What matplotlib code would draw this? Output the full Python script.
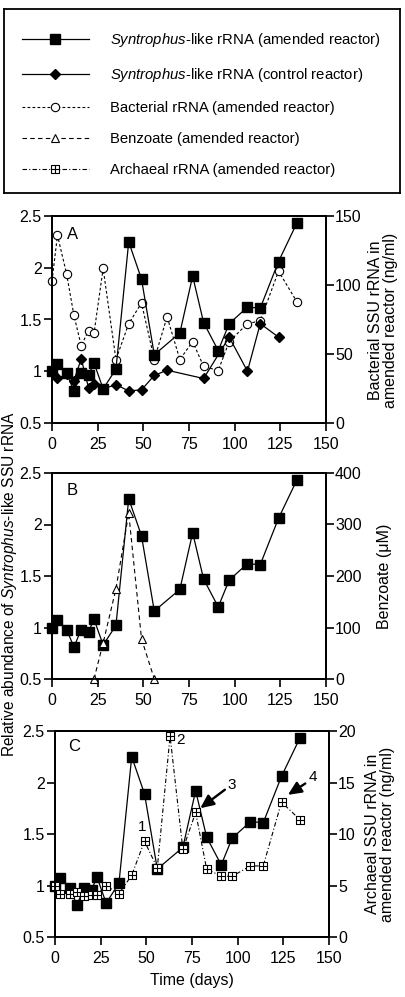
import matplotlib
matplotlib.use('Agg')
import matplotlib.pyplot as plt
from matplotlib.path import Path
from matplotlib.lines import Line2D

plt.rcParams['font.family'] = ['Liberation Sans', 'DejaVu Sans']
plt.rcParams['mathtext.fontset'] = 'custom'
plt.rcParams['mathtext.rm'] = 'Liberation Sans'
plt.rcParams['mathtext.it'] = 'Liberation Sans:italic'
plt.rcParams['font.size'] = 11.5

# データ
amended_days = [0, 3, 8, 12, 16, 20, 23, 28, 35, 42, 49, 56, 70, 77, 83, 91, 97, 107, 114, 124, 134]
amended_rel = [1.0, 1.07, 0.98, 0.81, 0.98, 0.96, 1.08, 0.83, 1.02, 2.25, 1.89, 1.16, 1.37, 1.92,
               1.47, 1.20, 1.46, 1.62, 1.61, 2.06, 2.43]

control_days = [0, 3, 8, 12, 16, 20, 23, 28, 35, 42, 49, 56, 63, 83, 97, 107, 114, 124]
control_rel = [1.0, 0.93, 0.97, 0.91, 1.12, 0.84, 0.88, 0.83, 0.87, 0.81, 0.82, 0.96, 1.01,
               0.93, 1.33, 1.00, 1.46, 1.33]

bact_days = [0, 3, 8, 12, 16, 20, 23, 28, 35, 42, 49, 56, 63, 70, 77, 83, 91, 97, 107, 114, 124, 134]
bact_ngml = [103, 136, 108, 78, 56, 67, 65, 112, 46, 72, 87, 46, 77, 46, 59, 41, 38, 59, 72, 74, 110, 88]

benz_days = [23, 28, 35, 42, 49, 56]
benz_um = [0, 70, 175, 322, 78, 0]

arch_days = [0, 3, 8, 12, 16, 20, 23, 28, 35, 42, 49, 56, 63, 70, 77, 83, 91, 97, 107, 114, 124, 134]
arch_ngml = [5.0, 4.2, 4.2, 4.4, 4.0, 4.1, 4.1, 5.0, 4.2, 6.0, 9.3, 6.7, 19.5, 8.5, 12.1, 6.6,
             5.9, 5.9, 6.9, 6.9, 13.1, 11.4]

x_ticks = [0, 25, 50, 75, 100, 125, 150]
left_ticks = [0.5, 1, 1.5, 2, 2.5]
left_ticklabels = ['0.5', '1', '1.5', '2', '2.5']

# 四角の中に十字のマーカー
boxplus = Path([(-1, -1), (1, -1), (1, 1), (-1, 1), (-1, -1),
                (-1, 0), (1, 0), (0, -1), (0, 1)],
               [Path.MOVETO, Path.LINETO, Path.LINETO, Path.LINETO, Path.CLOSEPOLY,
                Path.MOVETO, Path.LINETO, Path.MOVETO, Path.LINETO])

W, H = 405, 997
fig = plt.figure(figsize=(W / 100, H / 100), dpi=100)


def px_axes(left, top, right, bottom):
    return fig.add_axes([left / W, 1 - bottom / H, (right - left) / W, (bottom - top) / H])


def style(ax, ax2, rticks):
    ax.set_xlim(0, 150)
    ax.set_ylim(0.5, 2.5)
    ax.set_xticks(x_ticks)
    ax.set_yticks(left_ticks)
    ax.set_yticklabels(left_ticklabels)
    ax2.set_ylim(rticks[0], rticks[-1])
    ax2.set_yticks(rticks)
    for a in (ax, ax2):
        a.tick_params(direction='out', length=5.5, width=1.2, labelsize=11.5)
        for s in a.spines.values():
            s.set_linewidth(1.3)
    ax.tick_params(axis='x', pad=4.5)
    ax.tick_params(axis='y', pad=2)
    ax2.tick_params(axis='y', pad=1)


amended_kw = dict(color='black', lw=0.9, marker='s', ms=6.5, mfc='black', mec='black', clip_on=False)
control_kw = dict(color='black', lw=0.9, marker='D', ms=5.5, mfc='black', mec='black', clip_on=False)
bact_kw = dict(color='black', lw=0.8, ls=(0, (2.5, 2)), marker='o', ms=6, mfc='white', mec='black',
               mew=0.8, clip_on=False)
benz_kw = dict(color='black', lw=0.8, ls=(0, (4, 3)), marker='^', ms=6, mfc='white', mec='black',
               mew=0.8, clip_on=False)
arch_kw = dict(color='black', lw=0.8, ls=(0, (4, 2, 1, 2)), marker=boxplus, ms=6, mfc='white',
               mec='black', mew=0.8, clip_on=False)

# パネルA
axA = px_axes(52, 216, 326, 423)
axA2 = axA.twinx()
axA2.plot(bact_days, bact_ngml, **bact_kw)
axA.plot(control_days, control_rel, **control_kw)
axA.plot(amended_days, amended_rel, **amended_kw)
axA.set_zorder(axA2.get_zorder() + 1)
axA.patch.set_visible(False)
style(axA, axA2, [0, 50, 100, 150])
axA.text(0.075, 0.91, 'A', transform=axA.transAxes, fontsize=12, va='center', ha='center')

# パネルB
axB = px_axes(52, 473, 326, 679)
axB2 = axB.twinx()
axB2.plot(benz_days, benz_um, **benz_kw)
axB.plot(amended_days, amended_rel, **amended_kw)
style(axB, axB2, [0, 100, 200, 300, 400])
axB.text(0.075, 0.917, 'B', transform=axB.transAxes, fontsize=12, va='center', ha='center')

# パネルC
axC = px_axes(55, 731, 329, 937)
axC2 = axC.twinx()
axC.plot(amended_days, amended_rel, **amended_kw)
axC2.plot(arch_days, arch_ngml, **arch_kw)
style(axC, axC2, [0, 5, 10, 15, 20])
axC.text(0.07, 0.924, 'C', transform=axC.transAxes, fontsize=12, va='center', ha='center')
axC.set_xlabel('Time (days)', fontsize=11.5, labelpad=5)

# 番号と矢印
axC.text(47.5, 1.57, '1', fontsize=11, ha='center', va='center')
axC.text(68.5, 2.41, '2', fontsize=11, ha='center', va='center')
axC.text(96.5, 1.98, '3', fontsize=11, ha='center', va='center')
axC.text(141, 2.05, '4', fontsize=11, ha='center', va='center')
arrow = dict(arrowstyle='-|>,head_length=0.7,head_width=0.32', color='black', lw=1.7, shrinkA=0, shrinkB=0)
axC.annotate('', xy=(79.5, 1.75), xytext=(93, 1.93), arrowprops=arrow)
axC.annotate('', xy=(127.5, 1.88), xytext=(137, 1.99), arrowprops=arrow)

# 軸ラベル
fig.text(10 / W, 1 - 584 / H, r'Relative abundance of $\mathit{Syntrophus}$-like SSU rRNA',
         rotation=90, ha='center', va='center', fontsize=11.2)
fig.text(383 / W, 1 - 320 / H, 'Bacterial SSU rRNA in\namended reactor (ng/ml)',
         rotation=90, ha='center', va='center', fontsize=11.5, linespacing=1.0)
fig.text(385 / W, 1 - 576 / H, 'Benzoate (\u03bcM)',
         rotation=90, ha='center', va='center', fontsize=11.5)
fig.text(380 / W, 1 - 834 / H, 'Archaeal SSU rRNA in\namended reactor (ng/ml)',
         rotation=90, ha='center', va='center', fontsize=11.5, linespacing=1.0)

# 凡例
axL = px_axes(4, 9, 400, 193)
axL.set_xticks([])
axL.set_yticks([])
for s in axL.spines.values():
    s.set_linewidth(1.3)
handles = [
    Line2D([], [], **amended_kw),
    Line2D([], [], **control_kw),
    Line2D([], [], **bact_kw),
    Line2D([], [], **benz_kw),
    Line2D([], [], **arch_kw),
]
labels = [
    r'$\mathit{Syntrophus}$-like rRNA (amended reactor)',
    r'$\mathit{Syntrophus}$-like rRNA (control reactor)',
    'Bacterial rRNA (amended reactor)',
    'Benzoate (amended reactor)',
    'Archaeal rRNA (amended reactor)',
]
axL.legend(handles, labels, loc='upper left', bbox_to_anchor=(18 / 396, 1 - 22 / 184),
           frameon=False, borderpad=0, borderaxespad=0, numpoints=1,
           handlelength=4.5, handletextpad=1.4, labelspacing=1.15, fontsize=10.7)

fig.savefig('out.png', dpi=100)
